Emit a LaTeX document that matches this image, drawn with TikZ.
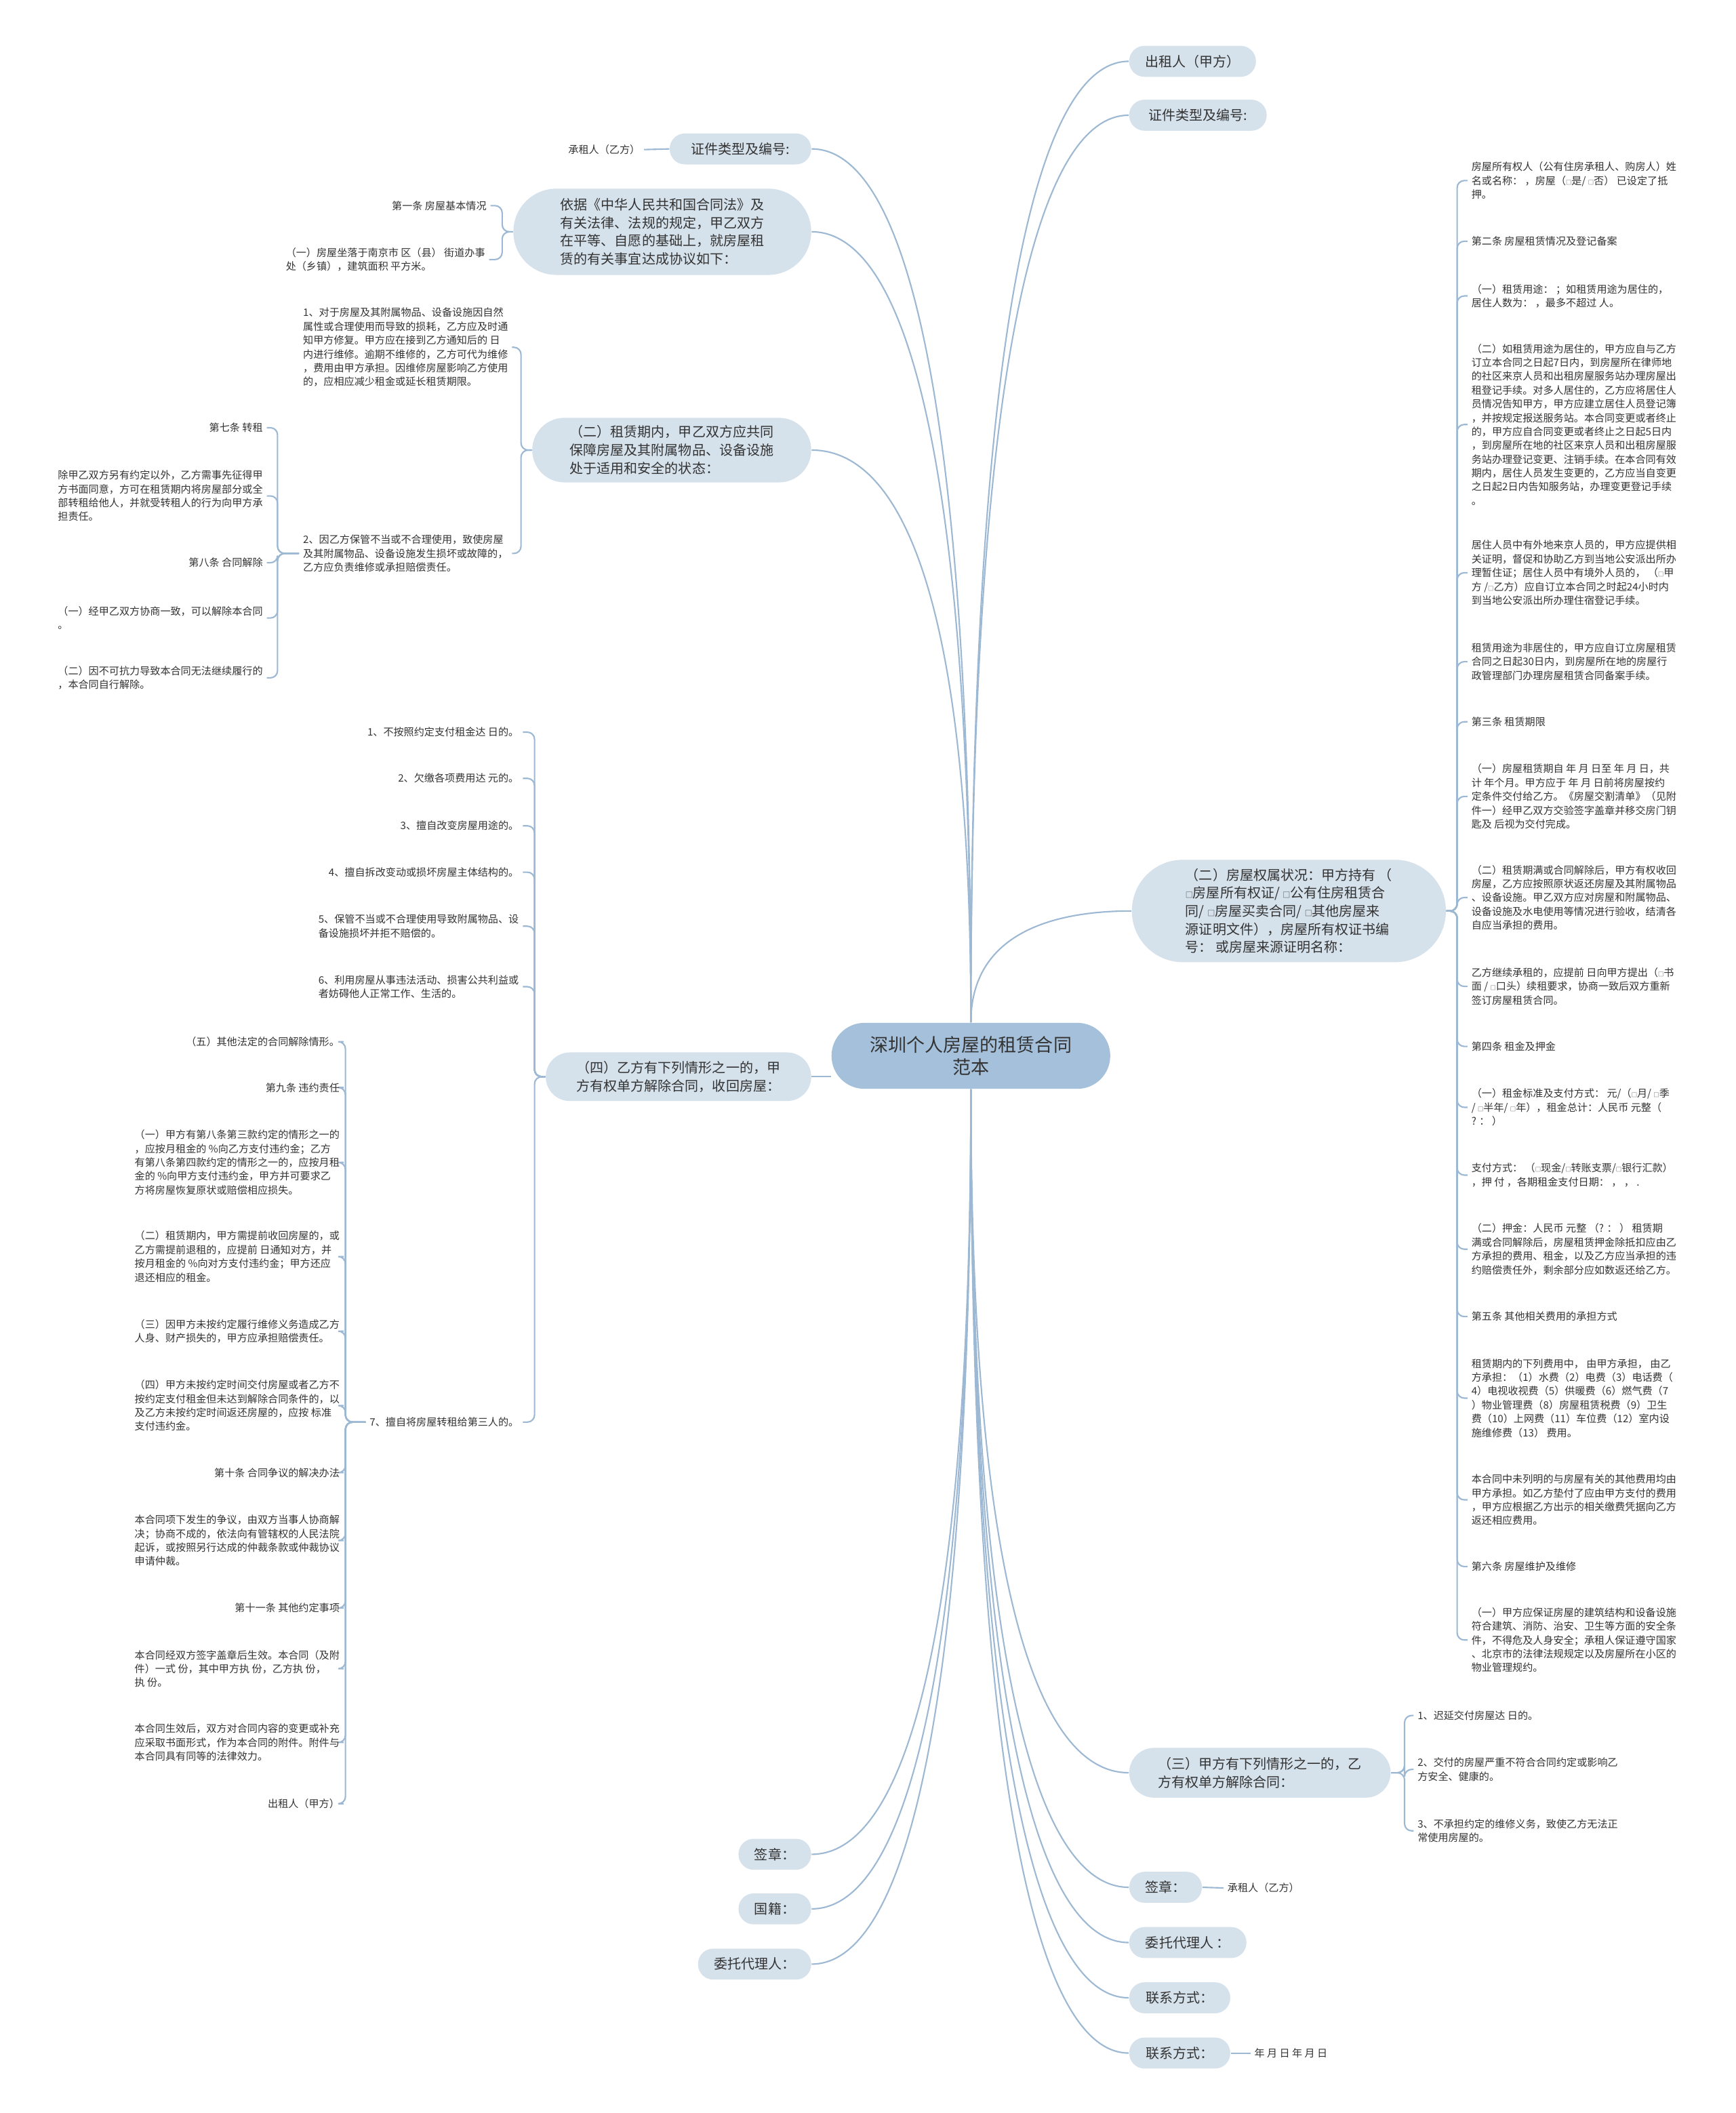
\documentclass[tikz,border=0pt]{standalone}
\usepackage{fontspec}
\setmainfont{Noto Sans CJK SC}
\usetikzlibrary{calc, backgrounds}
\definecolor{mmline}{HTML}{9CB8D3}
\definecolor{mmpill}{HTML}{D5E1EB}
\definecolor{mmroot}{HTML}{A5C0DA}
\definecolor{mmtext}{HTML}{333333}
\newcommand{\ckbox}{\scalebox{0.55}{□}}

\begin{document}
\begin{tikzpicture}[
  x=0.01988cm, y=-0.01988cm,
  every node/.style={text=mmtext},
  rootnode/.style={fill=mmroot, rounded corners=13.8pt, minimum width=117pt, minimum height=27.7pt, inner sep=0pt, align=center, font=\fontsize{7.7}{9.6}\selectfont},
  pill/.style={fill=mmpill, inner sep=0pt, align=left, font=\fontsize{5.7}{7.6}\selectfont, minimum height=13pt, rounded corners=6.4pt},
  leaf/.style={inner sep=1.5pt, align=left, font=\fontsize{4.3}{5.8}\selectfont},
  leafl/.style={leaf, anchor=east},
  leafr/.style={leaf, anchor=west},
  branch/.style={mmline, line width=0.6pt, to path={.. controls ($(\tikztostart)!0.75!(\tikztostart |- \tikztotarget)$) and ($(\tikztotarget)!0.55!(\tikztostart |- \tikztotarget)$) .. (\tikztotarget)}},
  twig/.style={mmline, line width=0.6pt, rounded corners=3pt},
]
\useasboundingbox (0,0) rectangle (1288,1568);

% Root
\node[rootnode] (ctr) at (720.5,783.5) {深圳个人房屋的租赁合同\\范本};

% Right side: main branches
\node[pill, minimum width=53.2pt] (r1) at (885,45.5) {出租人（甲方）};
\node[pill, minimum width=57.7pt] (r2) at (889,85.5) {证件类型及编号:};
\node[pill, minimum width=131.8pt, minimum height=43pt, rounded corners=21.4pt] (r3) at (956.5,676) {（二）房屋权属状况：甲方持有 （\\\ckbox 房屋所有权证/ \ckbox 公有住房租赁合\\同/ \ckbox 房屋买卖合同/ \ckbox 其他房屋来\\源证明文件），房屋所有权证书编\\号： 或房屋来源证明名称：};
\node[pill, minimum width=109.7pt, minimum height=20.9pt, rounded corners=10.4pt] (r4) at (935,1315.5) {（三）甲方有下列情形之一的，乙\\方有权单方解除合同：};
\node[pill, minimum width=30.5pt] (r5) at (865,1400.5) {签章：};
\node[pill, minimum width=49.2pt] (r6) at (881.5,1441.5) {委托代理人 ：};
\node[pill, minimum width=42.4pt] (r7) at (875.5,1482.5) {联系方式：};
\node[pill, minimum width=42.4pt] (r8) at (875.5,1523.5) {联系方式：};

% Right side: clauses under r3
\node[leafr] (a1) at (1089,134) {房屋所有权人（公有住房承租人、购房人）姓\\名或名称： ，房屋（\ckbox 是/ \ckbox 否） 已设定了抵\\押。};
\node[leafr] (a2) at (1089,179) {第二条 房屋租赁情况及登记备案};
\node[leafr] (a3) at (1089,219.6) {（一）租赁用途： ；如租赁用途为居住的，\\居住人数为： ，最多不超过 人。};
\node[leafr] (a4) at (1089,315) {（二）如租赁用途为居住的，甲方应自与乙方\\订立本合同之日起7日内，到房屋所在律师地\\的社区来京人员和出租房屋服务站办理房屋出\\租登记手续。对多人居住的，乙方应将居住人\\员情况告知甲方，甲方应建立居住人员登记簿\\，并按规定报送服务站。本合同变更或者终止\\的，甲方应自合同变更或者终止之日起5日内\\，到房屋所在地的社区来京人员和出租房屋服\\务站办理登记变更、注销手续。在本合同有效\\期内，居住人员发生变更的，乙方应当自变更\\之日起2日内告知服务站，办理变更登记手续\\。};
\node[leafr] (a5) at (1089,425) {居住人员中有外地来京人员的，甲方应提供相\\关证明，督促和协助乙方到当地公安派出所办\\理暂住证；居住人员中有境外人员的， （\ckbox 甲\\方 /\ckbox 乙方）应自订立本合同之时起24小时内\\到当地公安派出所办理住宿登记手续。};
\node[leafr] (a6) at (1089,491) {租赁用途为非居住的，甲方应自订立房屋租赁\\合同之日起30日内，到房屋所在地的房屋行\\政管理部门办理房屋租赁合同备案手续。};
\node[leafr] (a7) at (1089,535.6) {第三条 租赁期限};
\node[leafr] (a8) at (1089,591) {（一）房屋租赁期自 年 月 日至 年 月 日，共\\计 年个月。甲方应于 年 月 日前将房屋按约\\定条件交付给乙方。《房屋交割清单》（见附\\件一）经甲乙双方交验签字盖章并移交房门钥\\匙及 后视为交付完成。};
\node[leafr] (a9) at (1089,666) {（二）租赁期满或合同解除后，甲方有权收回\\房屋，乙方应按照原状返还房屋及其附属物品\\、设备设施。甲乙双方应对房屋和附属物品、\\设备设施及水电使用等情况进行验收，结清各\\自应当承担的费用。};
\node[leafr] (a10) at (1089,732) {乙方继续承租的，应提前 日向甲方提出（\ckbox 书\\面 / \ckbox 口头）续租要求，协商一致后双方重新\\签订房屋租赁合同。};
\node[leafr] (a11) at (1089,776.5) {第四条 租金及押金};
\node[leafr] (a12) at (1089,821.7) {（一）租金标准及支付方式： 元/（\ckbox 月/ \ckbox 季\\/ \ckbox 半年/ \ckbox 年），租金总计：人民币 元整（\\? ： ）};
\node[leafr] (a13) at (1089,872) {支付方式： （\ckbox 现金/\ckbox 转账支票/\ckbox 银行汇款）\\，押 付 ，各期租金支付日期： ， ， .};
\node[leafr] (a14) at (1089,927) {（二）押金：人民币 元整 （? ： ） 租赁期\\满或合同解除后，房屋租赁押金除抵扣应由乙\\方承担的费用、租金，以及乙方应当承担的违\\约赔偿责任外，剩余部分应如数返还给乙方。};
\node[leafr] (a15) at (1089,977) {第五条 其他相关费用的承担方式};
\node[leafr] (a16) at (1089,1037.5) {租赁期内的下列费用中， 由甲方承担， 由乙\\方承担：（1）水费（2）电费（3）电话费（\\4）电视收视费（5）供暖费（6）燃气费（7\\）物业管理费（8）房屋租赁税费（9）卫生\\费（10）上网费（11）车位费（12）室内设\\施维修费（13） 费用。};
\node[leafr] (a17) at (1089,1113) {本合同中未列明的与房屋有关的其他费用均由\\甲方承担。如乙方垫付了应由甲方支付的费用\\，甲方应根据乙方出示的相关缴费凭据向乙方\\返还相应费用。};
\node[leafr] (a18) at (1089,1162.5) {第六条 房屋维护及维修};
\node[leafr] (a19) at (1089,1217) {（一）甲方应保证房屋的建筑结构和设备设施\\符合建筑、消防、治安、卫生等方面的安全条\\件，不得危及人身安全；承租人保证遵守国家\\、北京市的法律法规规定以及房屋所在小区的\\物业管理规约。};

% Right side: under r4, r5, r8
\node[leafr] (b1) at (1049,1273) {1、迟延交付房屋达 日的。};
\node[leafr] (b2) at (1049,1313) {2、交付的房屋严重不符合合同约定或影响乙\\方安全、健康的。};
\node[leafr] (b3) at (1049,1358.6) {3、不承担约定的维修义务，致使乙方无法正\\常使用房屋的。};
\node[leafr] (r5a) at (908,1401) {承租人（乙方）};
\node[leafr] (r8a) at (928,1523.5) {年 月 日 年 月 日};

% Left side: main branches
\node[pill, minimum width=59.4pt] (l1) at (549.5,110.5) {证件类型及编号:};
\node[pill, minimum width=125pt, minimum height=36.2pt, rounded corners=18pt] (l2) at (491.5,172) {依据《中华人民共和国合同法》及\\有关法律、法规的规定，甲乙双方\\在平等、自愿的基础上，就房屋租\\赁的有关事宜达成协议如下：};
\node[pill, minimum width=117.1pt, minimum height=27.1pt, rounded corners=13.5pt] (l3) at (498.5,334) {（二）租赁期内，甲乙双方应共同\\保障房屋及其附属物品、设备设施\\处于适用和安全的状态：};
\node[pill, minimum width=111.4pt, minimum height=20.4pt, rounded corners=10.1pt] (l4) at (503.5,799) {（四）乙方有下列情形之一的，甲\\方有权单方解除合同，收回房屋：};
\node[pill, minimum width=30.5pt] (l5) at (575,1376) {签章：};
\node[pill, minimum width=30.5pt] (l6) at (575,1416.5) {国籍：};
\node[pill, minimum width=47.5pt] (l7) at (560,1457.5) {委托代理人：};

% Left side: leaves of l1, l2, l3
\node[leafl] (l1a) at (478,111) {承租人（乙方）};
\node[leafl] (l2a) at (364,152.6) {第一条 房屋基本情况};
\node[leafl] (l2b) at (363,192.6) {（一）房屋坐落于南京市 区（县） 街道办事\\处（乡镇），建筑面积 平方米。};
\node[leafl] (d1) at (380,257.7) {1、对于房屋及其附属物品、设备设施因自然\\属性或合理使用而导致的损耗，乙方应及时通\\知甲方修复。甲方应在接到乙方通知后的 日\\内进行维修。逾期不维修的，乙方可代为维修\\，费用由甲方承担。因维修房屋影响乙方使用\\的，应相应减少租金或延长租赁期限。};
\node[leafl] (d2) at (380,410.7) {2、因乙方保管不当或不合理使用，致使房屋\\及其附属物品、设备设施发生损坏或故障的，\\乙方应负责维修或承担赔偿责任。};
\node[leafl] (e1) at (198,317.4) {第七条 转租};
\node[leafl] (e2) at (198,368) {除甲乙双方另有约定以外，乙方需事先征得甲\\方书面同意，方可在租赁期内将房屋部分或全\\部转租给他人，并就受转租人的行为向甲方承\\担责任。};
\node[leafl] (e3) at (198,417.6) {第八条 合同解除};
\node[leafl] (e4) at (198,458.6) {（一）经甲乙双方协商一致，可以解除本合同\\。};
\node[leafl] (e5) at (198,503) {（二）因不可抗力导致本合同无法继续履行的\\，本合同自行解除。};

% Left side: leaves of l4
\node[leafl] (f1) at (388,543.3) {1、不按照约定支付租金达 日的。};
\node[leafl] (f2) at (388,577.6) {2、欠缴各项费用达 元的。};
\node[leafl] (f3) at (388,612.8) {3、擅自改变房屋用途的。};
\node[leafl] (f4) at (388,647.2) {4、擅自拆改变动或损坏房屋主体结构的。};
\node[leafl] (f5) at (388,687.3) {5、保管不当或不合理使用导致附属物品、设\\备设施损坏并拒不赔偿的。};
\node[leafl] (f6) at (388,732.2) {6、利用房屋从事违法活动、损害公共利益或\\者妨碍他人正常工作、生活的。};
\node[leafl] (f7) at (388,1055.3) {7、擅自将房屋转租给第三人的。};
\node[leafl] (g1) at (255,773) {（五）其他法定的合同解除情形。};
\node[leafl] (g2) at (255,807) {第九条 违约责任};
\node[leafl] (g3) at (255,862.6) {（一）甲方有第八条第三款约定的情形之一的\\，应按月租金的 \%向乙方支付违约金；乙方\\有第八条第四款约定的情形之一的，应按月租\\金的 \%向甲方支付违约金，甲方并可要求乙\\方将房屋恢复原状或赔偿相应损失。};
\node[leafl] (g4) at (255,932.5) {（二）租赁期内，甲方需提前收回房屋的，或\\乙方需提前退租的，应提前 日通知对方，并\\按月租金的 \%向对方支付违约金；甲方还应\\退还相应的租金。};
\node[leafl] (g5) at (255,987.8) {（三）因甲方未按约定履行维修义务造成乙方\\人身、财产损失的，甲方应承担赔偿责任。};
\node[leafl] (g6) at (255,1043) {（四）甲方未按约定时间交付房屋或者乙方不\\按约定支付租金但未达到解除合同条件的，以\\及乙方未按约定时间返还房屋的，应按 标准\\支付违约金。};
\node[leafl] (g7) at (255,1092.8) {第十条 合同争议的解决办法};
\node[leafl] (g8) at (255,1143.2) {本合同项下发生的争议，由双方当事人协商解\\决；协商不成的，依法向有管辖权的人民法院\\起诉，或按照另行达成的仲裁条款或仲裁协议\\申请仲裁。};
\node[leafl] (g9) at (255,1193.3) {第十一条 其他约定事项};
\node[leafl] (g10) at (255,1238.3) {本合同经双方签字盖章后生效。本合同（及附\\件）一式 份，其中甲方执 份，乙方执 份，\\执 份。};
\node[leafl] (g11) at (255,1293) {本合同生效后，双方对合同内容的变更或补充\\应采取书面形式，作为本合同的附件。附件与\\本合同具有同等的法律效力。};
\node[leafl] (g12) at (255,1338.5) {出租人（甲方）};

% Connectors
\begin{scope}[on background layer]
\fill[white] (0,0) rectangle (1288,1568);
\foreach \n in {r1,r2,r3} \draw[branch] (ctr.north) to (\n.west);
\foreach \n in {r4,r5,r6,r7,r8} \draw[branch] (ctr.south) to (\n.west);
\foreach \n in {l1,l2,l3} \draw[branch] (ctr.north) to (\n.east);
\foreach \n in {l5,l6,l7} \draw[branch] (ctr.south) to (\n.east);
\draw[twig] (l4.east) -- (l4.east -| ctr.west);

\foreach \i in {1,...,19} \draw[twig] (r3.east) -- ++(8,0) |- (a\i.west);
\foreach \i in {1,2,3} \draw[twig] (r4.east) -- ++(10,0) |- (b\i.west);
\draw[twig] (r5.east) -- (r5a.west);
\draw[twig] (r8.east) -- (r8a.west);

\draw[twig] (l1.west) -- (l1a.east);
\foreach \n in {l2a,l2b} \draw[twig] (l2.west) -- ++(-8,0) |- (\n.east);
\foreach \n in {d1,d2} \draw[twig] (l3.west) -- ++(-8,0) |- (\n.east);
\foreach \i in {1,...,5} \draw[twig] (d2.west) -- ++(-16,0) |- (e\i.east);
\foreach \i in {1,...,7} \draw[twig] (l4.west) -- ++(-8,0) |- (f\i.east);
\foreach \i in {1,...,12} \draw[twig] (f7.west) -- ++(-15,0) |- (g\i.east);
\end{scope}

\end{tikzpicture}
\end{document}
